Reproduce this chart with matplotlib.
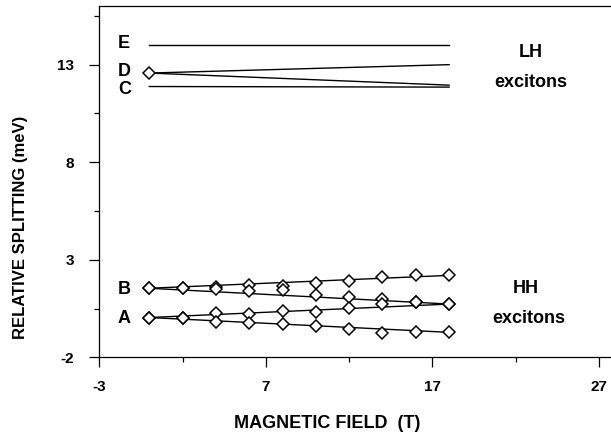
import matplotlib
matplotlib.use("Agg")
import matplotlib.pyplot as plt
from matplotlib.ticker import FixedLocator

plt.rcParams['font.family'] = ['Liberation Sans', 'DejaVu Sans']
plt.rcParams['font.weight'] = 'bold'
plt.rcParams['axes.unicode_minus'] = False

# ---- data ----
field = [0, 2, 4, 6, 8, 10, 12, 14, 16, 18]
B_upper = [1.54, 1.54, 1.58, 1.71, 1.67, 1.79, 1.90, 2.12, 2.20, 2.20]
B_lower = [1.54, 1.54, 1.52, 1.42, 1.46, 1.20, 1.08, 1.00, 0.81, 0.73]
A_upper = [0.04, 0.04, 0.26, 0.22, 0.35, 0.31, 0.53, 0.73, 0.81, 0.73]
A_lower = [0.04, 0.04, -0.21, -0.22, -0.27, -0.37, -0.53, -0.73, -0.69, -0.71]

fit_field = [0, 18]
B_upper_fit = [1.54, 2.20]
B_lower_fit = [1.54, 0.73]
A_upper_fit = [0.04, 0.73]
A_lower_fit = [0.04, -0.72]

E_line = [14.0, 14.0]
D_upper = [12.57, 13.0]
D_lower = [12.57, 11.95]
C_line = [11.88, 11.85]
D_point_field = [0]
D_point_value = [12.57]

xticks_major = [-3, 7, 17, 27]
xticks_minor = [2, 12, 22]
yticks_major = [-2, 3, 8, 13]
yticks_minor = [0.5, 5.5, 10.5, 15.5]

state_labels = ['E', 'D', 'C', 'B', 'A']
state_label_y = [14.11, 12.65, 11.75, 1.50, 0.01]

# ---- figure ----
fig = plt.figure(figsize=(6.11, 4.38), dpi=100)
ax = fig.add_axes([0.1625, 0.1842, 0.8375, 0.8018])

lw = 1.0
for fit in (B_upper_fit, B_lower_fit, A_upper_fit, A_lower_fit,
            E_line, D_upper, D_lower, C_line):
    ax.plot(fit_field, fit, color='black', lw=lw, zorder=2)

mk = dict(marker='D', ms=6.3, mfc='white', mec='black', mew=1.1,
          linestyle='none', zorder=3)
for series in (B_upper, B_lower, A_upper, A_lower):
    ax.plot(field, series, **mk)
ax.plot(D_point_field, D_point_value, **mk)

ax.set_xlim(-3, 27.72)
ax.set_ylim(-2, 16)
ax.xaxis.set_major_locator(FixedLocator(xticks_major))
ax.xaxis.set_minor_locator(FixedLocator(xticks_minor))
ax.yaxis.set_major_locator(FixedLocator(yticks_major))
ax.yaxis.set_minor_locator(FixedLocator(yticks_minor))

ax.spines['right'].set_visible(False)
for s in ('left', 'bottom', 'top'):
    ax.spines[s].set_linewidth(0.9)

ax.tick_params(axis='both', which='major', direction='out', length=7,
               width=0.9, labelsize=11)
ax.tick_params(axis='both', which='minor', direction='out', length=3.5,
               width=0.9)
ax.tick_params(axis='y', which='major', pad=11)
ax.tick_params(axis='x', which='major', pad=9)
ax.tick_params(top=False, right=False, which='both')
for lab in ax.get_xticklabels() + ax.get_yticklabels():
    lab.set_fontweight('bold')

ax.set_xlabel('MAGNETIC FIELD  (T)', fontsize=13, fontweight='bold')
ax.xaxis.set_label_coords(0.445, -0.165)
ax.set_ylabel('RELATIVE SPLITTING (meV)', fontsize=12, fontweight='bold')
ax.yaxis.set_label_coords(-0.139, 0.371)

for lab, yv in zip(state_labels, state_label_y):
    ax.text(-1.5, yv, lab, fontsize=13, fontweight='bold',
            ha='center', va='center')

ax.text(22.9, 13.6, 'LH', fontsize=13, fontweight='bold', ha='center', va='center')
ax.text(22.9, 12.11, 'excitons', fontsize=13, fontweight='bold', ha='center', va='center')
ax.text(22.6, 1.55, 'HH', fontsize=13, fontweight='bold', ha='center', va='center')
ax.text(22.8, 0.01, 'excitons', fontsize=13, fontweight='bold', ha='center', va='center')

fig.savefig('out.png', dpi=100)
